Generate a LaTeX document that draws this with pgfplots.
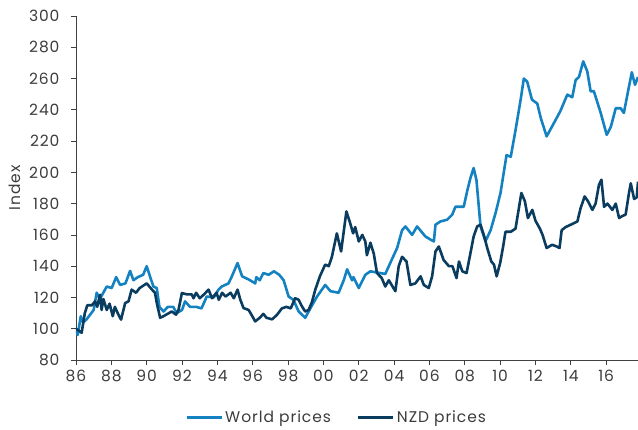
\documentclass[border=0pt]{standalone}
\usepackage{pgfplots}
\pgfplotsset{compat=1.18}
\usepackage{fontspec}
\setmainfont{Poppins}[LetterSpace=6]
\definecolor{worldblue}{RGB}{20,130,192}
\definecolor{nzdnavy}{RGB}{10,60,95}
\definecolor{txtgray}{RGB}{60,60,60}

\pgfplotstableread{
year value
1986.0 99
1986.1 96
1986.27 108
1986.4 104
1986.6 106
1987.0 112
1987.17 123
1987.35 119
1987.74 127
1988.02 126
1988.27 133
1988.5 128
1988.8 129
1989.06 137
1989.25 131
1989.5 133
1989.8 134.5
1990.0 140
1990.2 133
1990.38 127
1990.57 126
1990.72 114
1990.95 111
1991.2 114
1991.5 114
1991.7 110
1992.0 112
1992.17 117.5
1992.45 114
1992.8 114
1993.1 113
1993.4 120.6
1993.8 120
1994.06 125
1994.25 127
1994.63 129
1994.8 133
1995.14 142
1995.4 133.5
1995.77 131.5
1996.14 129
1996.2 133
1996.4 131
1996.6 135.6
1996.9 134.5
1997.2 136.7
1997.5 134.5
1997.75 131
1998.03 120.6
1998.3 118.5
1998.6 111
1998.97 107
1999.26 113
1999.64 120.6
2000.1 128
2000.4 124
2000.86 123
2001.15 131
2001.34 138
2001.62 131
2001.7 133
2002.0 126
2002.37 134.5
2002.66 136.7
2003.22 135.6
2003.5 135
2003.9 145
2004.17 151.6
2004.45 163
2004.64 165.4
2005.02 160
2005.3 165.4
2005.77 159
2006.06 157
2006.25 155.8
2006.34 166.5
2006.62 168.6
2007.0 169.7
2007.29 173
2007.47 178
2007.94 178
2008.13 187.8
2008.32 196.4
2008.5 202.8
2008.66 195
2008.89 165.4
2009.17 156
2009.46 163
2009.74 174
2010.02 186.8
2010.2 199.6
2010.36 211
2010.6 210
2010.87 227
2011.16 246.5
2011.34 260
2011.53 258
2011.8 246.5
2012.1 244
2012.3 234.7
2012.63 223
2013.04 231.5
2013.4 239
2013.8 249.7
2014.08 248
2014.27 259
2014.46 261
2014.7 271
2014.93 264.6
2015.12 251.8
2015.3 252
2015.69 238
2016.03 224
2016.26 229
2016.54 241
2016.82 241
2017.0 238
2017.2 249.7
2017.45 264
2017.63 256
2017.8 261
}\worldtable

\pgfplotstableread{
year value
1986.0 100
1986.32 97.4
1986.5 110
1986.64 115
1986.9 115
1987.08 117.5
1987.2 114
1987.36 121.7
1987.45 112
1987.55 119
1987.74 112
1987.9 116
1988.08 108
1988.2 114
1988.4 109
1988.55 105.8
1988.78 116.4
1988.97 117.5
1989.15 125
1989.4 123
1989.6 126
1990.0 129
1990.3 125
1990.47 123
1990.57 116.5
1990.76 107
1990.95 108
1991.1 109
1991.42 111
1991.66 109
1991.8 112
1991.99 122.8
1992.27 122
1992.55 122
1992.65 119.5
1992.8 123
1993.0 119.5
1993.25 122
1993.5 125
1993.7 119.5
1993.95 123
1994.08 118.5
1994.27 123
1994.46 120.6
1994.75 123
1994.93 119.5
1995.14 125
1995.3 118.5
1995.48 113.2
1995.77 112
1995.95 108.5
1996.14 104.7
1996.4 107
1996.6 109.5
1996.78 107
1997.1 106
1997.38 109
1997.65 113
1997.9 114
1998.15 113
1998.4 119.5
1998.6 118.5
1998.8 114
1998.97 111
1999.16 112
1999.35 117
1999.54 125
1999.8 133.5
2000.1 141
2000.3 140
2000.48 146
2000.76 161
2001.0 149.4
2001.3 175
2001.5 168
2001.68 161
2001.8 165
2002.0 155.8
2002.2 160
2002.37 155.8
2002.46 147
2002.66 155
2002.85 148
2003.03 135.6
2003.3 132.4
2003.5 127
2003.7 131
2004.07 124
2004.26 140
2004.45 146
2004.7 143
2004.92 128
2005.2 129
2005.5 133.5
2005.68 128
2005.96 126
2006.15 133.5
2006.34 149.4
2006.53 152.6
2006.8 144
2007.1 140
2007.3 140
2007.53 132.4
2007.67 143
2007.86 136.7
2008.1 135.6
2008.32 148.4
2008.5 159
2008.7 165.4
2008.89 166.5
2009.1 159
2009.27 151.6
2009.5 143
2009.65 141
2009.8 133.5
2010.0 142
2010.17 152.6
2010.3 162
2010.6 162
2010.87 164
2011.0 173
2011.2 186.8
2011.4 181.5
2011.57 170.8
2011.82 176
2012.0 169
2012.25 164
2012.4 160
2012.63 151.6
2012.94 153.7
2013.2 152.6
2013.36 151.6
2013.48 163
2013.7 165
2013.99 166.5
2014.37 168.6
2014.55 177
2014.78 184.6
2014.97 181.5
2015.22 176
2015.4 180
2015.59 192
2015.73 195.3
2015.88 178
2016.07 180
2016.35 176
2016.54 180
2016.73 170.8
2016.9 172
2017.1 173
2017.29 186.8
2017.39 193
2017.58 183
2017.73 184
2017.8 194
}\nzdtable

\begin{document}
\begin{tikzpicture}
\begin{axis}[
  name=ax,
  scale only axis,
  width=562pt, height=344pt,
  xmin=1986, xmax=2017.8,
  ymin=80, ymax=300,
  axis x line*=bottom,
  axis y line*=left,
  axis line style={-, draw=black!75, line width=0.8pt},
  tick align=outside,
  major tick length=5pt,
  tick style={draw=black!75, line width=0.8pt},
  xtick={1986,1988,...,2016},
  xticklabels={86,88,90,92,94,96,98,00,02,04,06,08,10,12,14,16},
  ytick={80,100,...,300},
  /pgf/number format/assume math mode=true,
  ticklabel style={font=\fontsize{15.5}{17}\selectfont, text=txtgray},
  xticklabel style={yshift=-2pt},
  yticklabel style={xshift=-8pt},
  ylabel={Index},
  ylabel style={font=\fontsize{15.5}{17}\selectfont, text=txtgray, yshift=2pt},
  legend columns=2,
  legend style={
    at={(rel axis cs:0.194,-0.166)}, anchor=west,
    draw=none, fill=none, inner sep=0pt,
    font=\fontsize{15.5}{17}\selectfont, text=txtgray,
    /tikz/every even column/.append style={column sep=24pt},
  },
  legend image code/.code={\draw[#1, line width=3pt] (0pt,0pt) -- (35pt,0pt);},
  legend cell align=left,
  every axis plot/.append style={line width=2.6pt, line join=round},
]
\addplot[color=worldblue, no marks] table[x=year, y=value] {\worldtable};
\addlegendentry{World prices}
\addplot[color=nzdnavy, no marks] table[x=year, y=value] {\nzdtable};
\addlegendentry{NZD prices}
\end{axis}
\pgfresetboundingbox
\path[use as bounding box] ([xshift=-76pt, yshift=-70pt]ax.south west) rectangle ([yshift=16pt]ax.north east);
\end{tikzpicture}
\end{document}
